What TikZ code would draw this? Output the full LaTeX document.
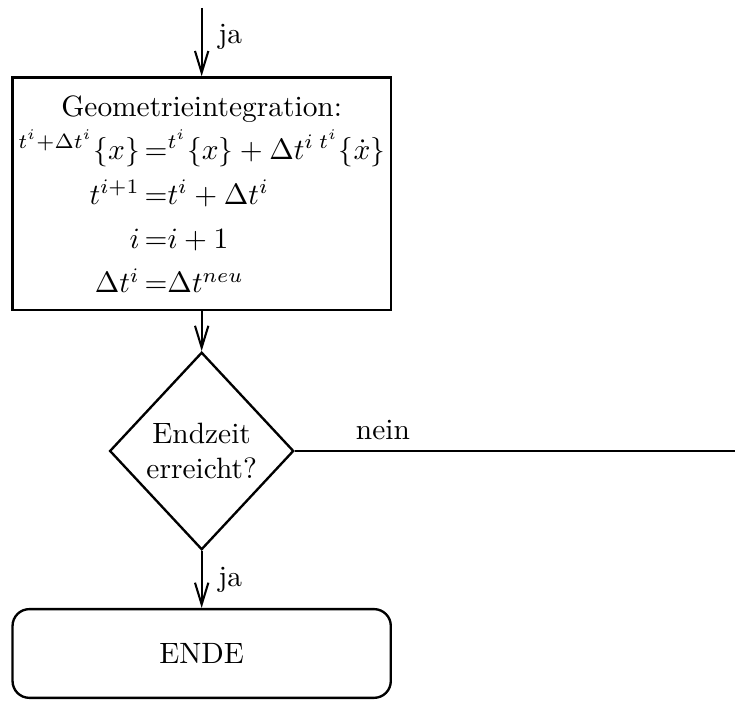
\documentclass[tikz,border=0pt]{standalone}
\usepackage{amsmath}
\usepackage{amssymb}
\usepackage{tikz}
\usetikzlibrary{arrows.meta,shapes.geometric,positioning}

\begin{document}
\begin{tikzpicture}[>={Straight Barb[length=2.6mm,width=1.6mm]},
  box/.style={draw, line width=0.8pt, minimum width=4.52cm, inner xsep=1pt, align=center},
  decision/.style={draw, diamond, line width=0.8pt, inner sep=-2pt,
    minimum width=2.2cm, minimum height=2.36cm, align=center},
  flow/.style={->, line width=0.7pt}]
\useasboundingbox (0,0) rectangle (8.783,8.365);

% Boxes
\node[box, inner ysep=0pt, minimum height=2.78cm] (geo) at (2.41,6.05) {\rule{0pt}{12pt}Geometrieintegration:\\[1pt]
  $\renewcommand{\arraystretch}{1.26}\begin{array}{@{}r@{\,}l@{}}
  {}^{t^i+\Delta t^i}\{x\} & \mathord{=}{}^{t^i}\{x\}+\Delta t^i\,{}^{t^i}\{\dot{x}\}\\
  t^{i+1} & \mathord{=}t^i+\Delta t^i\\
  i & \mathord{=}i+1\\
  \Delta t^i & \mathord{=}\Delta t^{neu}
  \end{array}$};
\node[decision] (endq) at (2.41,2.976) {Endzeit\\erreicht?};
\node[box, rounded corners=0.2cm, minimum height=1.06cm] (stop) at (2.41,0.556) {ENDE};

\coordinate (start) at (2.41,8.27);
\coordinate (back) at (8.783,2.976);

% Connectors
\draw[flow] (start) -- (geo) node[pos=0.43, right=2pt] {ja};
\draw[flow] (geo) -- (endq);
\draw[flow] (endq) -- (stop) node[midway, right=2pt] {ja};
\draw[line width=0.7pt] (endq) -- (back) node[pos=0.2, above] {nein};
\end{tikzpicture}
\end{document}
